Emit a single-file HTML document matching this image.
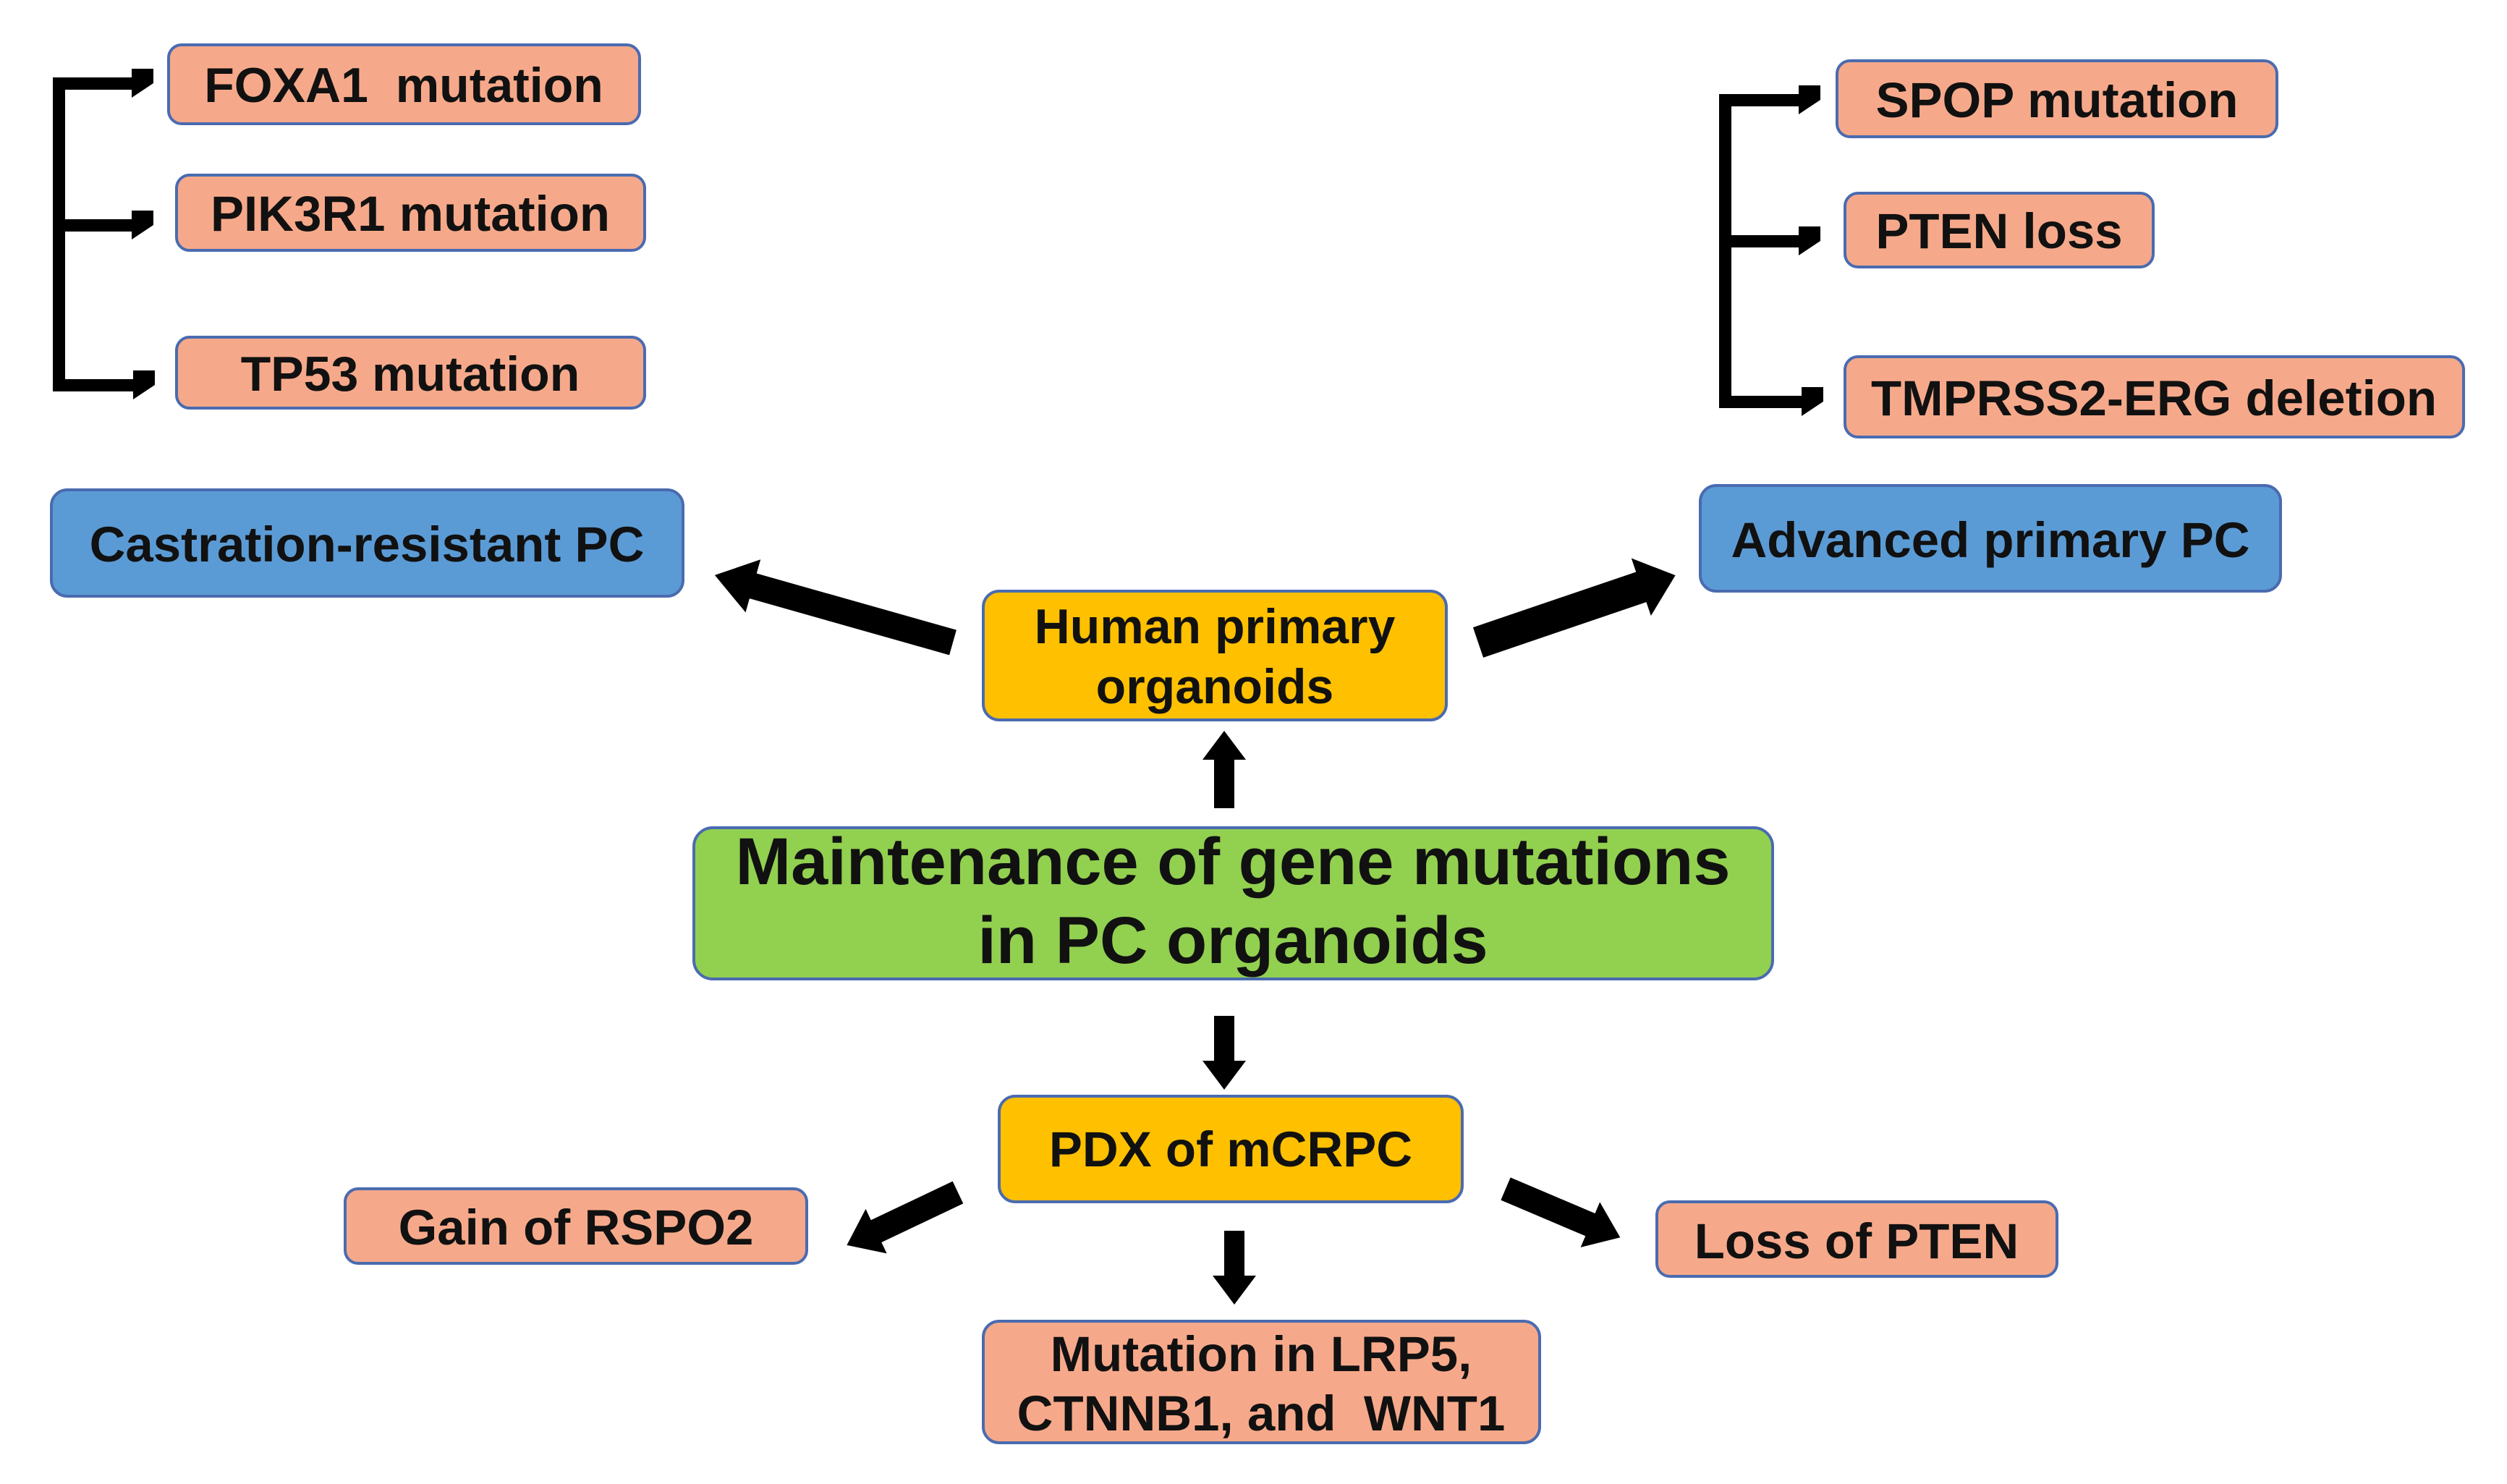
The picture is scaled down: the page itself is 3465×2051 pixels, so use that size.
<!DOCTYPE html>
<html><head><meta charset="utf-8"><style>
html,body{margin:0;padding:0;background:#fff}
svg{display:block}
text{font-family:"Liberation Sans",Arial,sans-serif;font-weight:bold;fill:#111}
</style></head><body>
<svg width="3465" height="2051" viewBox="0 0 3465 2051" xmlns="http://www.w3.org/2000/svg">
<defs>
<polygon id="bh" points="0,-20 -30,-20 -30,-8 -30,8 -30,20 0,0"/>
</defs>
<g stroke="#4a6bb0" stroke-width="4">
<rect x="233" y="62" width="651" height="109" rx="18" fill="#F6A98A"/>
<rect x="244" y="242" width="647" height="104" rx="18" fill="#F6A98A"/>
<rect x="244" y="466" width="647" height="98" rx="18" fill="#F6A98A"/>
<rect x="2539" y="84" width="608" height="105" rx="18" fill="#F6A98A"/>
<rect x="2550" y="267" width="426" height="102" rx="18" fill="#F6A98A"/>
<rect x="2550" y="493" width="855" height="111" rx="18" fill="#F6A98A"/>
<rect x="71" y="677" width="873" height="147" rx="22" fill="#5B9BD5"/>
<rect x="2350" y="671" width="802" height="146" rx="22" fill="#5B9BD5"/>
<rect x="1359" y="817" width="640" height="178" rx="22" fill="#FFC000"/>
<rect x="959" y="1144" width="1491" height="209" rx="26" fill="#92D050"/>
<rect x="1381" y="1515" width="640" height="146" rx="22" fill="#FFC000"/>
<rect x="477" y="1643" width="638" height="103" rx="18" fill="#F6A98A"/>
<rect x="2290" y="1661" width="553" height="103" rx="18" fill="#F6A98A"/>
<rect x="1359" y="1826" width="769" height="168" rx="22" fill="#F6A98A"/>
</g>
<g text-anchor="middle">
<text x="558" y="141" font-size="68" xml:space="preserve">FOXA1  mutation</text>
<text x="567" y="319" font-size="69">PIK3R1 mutation</text>
<text x="567" y="540" font-size="68">TP53 mutation</text>
<text x="2843" y="162" font-size="69">SPOP mutation</text>
<text x="2763" y="343" font-size="69">PTEN loss</text>
<text x="2977" y="574" font-size="69">TMPRSS2-ERG deletion</text>
<text x="507" y="776" font-size="69">Castration-resistant PC</text>
<text x="2751" y="770" font-size="69">Advanced primary PC</text>
<text x="1679" y="889" font-size="68">Human primary</text>
<text x="1679" y="972" font-size="68">organoids</text>
<text x="1704" y="1222" font-size="92">Maintenance of gene mutations</text>
<text x="1704" y="1331" font-size="92">in PC organoids</text>
<text x="1701" y="1612" font-size="69">PDX of mCRPC</text>
<text x="796" y="1720" font-size="69">Gain of RSPO2</text>
<text x="2566" y="1739" font-size="69">Loss of PTEN</text>
<text x="1743" y="1895" font-size="69">Mutation in LRP5,</text>
<text x="1743" y="1977" font-size="69" xml:space="preserve">CTNNB1, and  WNT1</text>
</g>
<g fill="#000">
<rect x="73" y="107" width="17" height="434"/>
<rect x="73" y="107" width="115" height="17"/>
<rect x="73" y="303" width="115" height="17"/>
<rect x="73" y="524" width="115" height="17"/>
<use href="#bh" transform="translate(212,115)"/>
<use href="#bh" transform="translate(212,311)"/>
<use href="#bh" transform="translate(214,532)"/>
<rect x="2376" y="130" width="17" height="434"/>
<rect x="2376" y="130" width="115" height="17"/>
<rect x="2376" y="325" width="115" height="17"/>
<rect x="2376" y="547" width="115" height="17"/>
<use href="#bh" transform="translate(2516,138)"/>
<use href="#bh" transform="translate(2516,333)"/>
<use href="#bh" transform="translate(2520,555)"/>
</g>
<g fill="#000">
<polygon transform="translate(1317,888) rotate(195.8)" points="0,-18 287,-18 287,-38 342,0 287,38 287,18 0,18"/>
<polygon transform="translate(2043,888) rotate(-18.8)" points="0,-22 238,-22 238,-42 288,0 238,42 238,22 0,22"/>
<polygon transform="translate(1692,1117) rotate(-90)" points="0,-14 67,-14 67,-30 107,0 67,30 67,14 0,14"/>
<polygon transform="translate(1692,1404) rotate(90)" points="0,-14 62,-14 62,-30 102,0 62,30 62,14 0,14"/>
<polygon transform="translate(1324,1648) rotate(154.6)" points="0,-17 125,-17 125,-34 170,0 125,34 125,17 0,17"/>
<polygon transform="translate(1706,1701) rotate(90)" points="0,-14 62,-14 62,-30 102,0 62,30 62,14 0,14"/>
<polygon transform="translate(2081,1643) rotate(23)" points="0,-17 127,-17 127,-34 172,0 127,34 127,17 0,17"/>
</g>
</svg>
</body></html>
